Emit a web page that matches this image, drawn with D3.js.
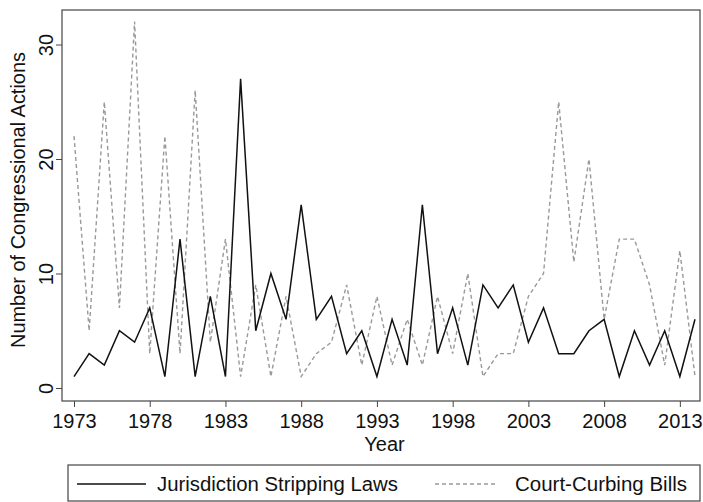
<!DOCTYPE html>
<html>
<head>
<meta charset="utf-8">
<script src="https://cdn.jsdelivr.net/npm/d3@7"></script>
<style>
  body { margin: 0; background: #fff; }
  text { font-family: "Liberation Sans", Arial, sans-serif; fill: #111; }
</style>
</head>
<body>
<div id="container"></div>
<script>
// data
const years = d3.range(1973, 2015);
const stripping = [1, 3, 2, 5, 4, 7, 1, 13, 1, 8, 1, 27, 5, 10, 6, 16, 6, 8, 3, 5, 1, 6, 2, 16, 3, 7, 2, 9, 7, 9, 4, 7, 3, 3, 5, 6, 1, 5, 2, 5, 1, 6];
const curbing = [22, 5, 25, 7, 32, 3, 22, 3, 26, 4, 13, 1, 9, 1, 8, 1, 3, 4, 9, 2, 8, 2, 6, 2, 8, 3, 10, 1, 3, 3, 8, 10, 25, 11, 20, 6, 13, 13, 9, 2, 12, 1];
const xTicks = [1973, 1978, 1983, 1988, 1993, 1998, 2003, 2008, 2013];
const yTicks = [0, 10, 20, 30];
const seriesNames = ["Jurisdiction Stripping Laws", "Court-Curbing Bills"];

const w = 703; // canvas width
const h = 502; // canvas height
const frame = {left: 62, right: 700, top: 10, bottom: 401};
const fs = 20; // font size

const svg = d3.select("#container").append("svg").attr("width", w).attr("height", h);

const xScale = d3.scaleLinear().domain([1973, 2014]).range([74, 695]);
const yScale = d3.scaleLinear().domain([0, 10]).range([388, 273.5]);

// frame
svg.append("rect").attr("x", frame.left).attr("y", frame.top).attr("width", frame.right - frame.left).attr("height", frame.bottom - frame.top).attr("fill", "none").attr("stroke", "#444").attr("stroke-width", 1.2);

// axes
const xAxis = d3.axisBottom(xScale).tickValues(xTicks).tickFormat(d3.format("d")).tickSize(6).tickSizeOuter(0);
const gx = svg.append("g").attr("transform", `translate(0, ${frame.bottom})`).call(xAxis);
gx.select(".domain").remove();
gx.selectAll("line").attr("stroke", "#444");
gx.selectAll("text").attr("font-size", fs).attr("y", 27).attr("dy", null).attr("font-family", "Liberation Sans, Arial, sans-serif").attr("fill", "#111");

const yAxis = d3.axisLeft(yScale).tickValues(yTicks).tickSize(6).tickSizeOuter(0);
const gy = svg.append("g").attr("transform", `translate(${frame.left}, 0)`).call(yAxis);
gy.select(".domain").remove();
gy.selectAll("line").attr("stroke", "#444");
gy.selectAll("text").attr("font-size", fs).attr("font-family", "Liberation Sans, Arial, sans-serif").attr("fill", "#111")
  .attr("x", null).attr("dy", null).attr("text-anchor", "middle")
  .attr("transform", "translate(-9, 0) rotate(-90)");

// axis titles
svg.append("text").attr("x", xScale(1993.5)).attr("y", 451).attr("text-anchor", "middle").attr("font-size", fs).text("Year");
svg.append("text").attr("transform", `translate(25, 200) rotate(-90)`).attr("text-anchor", "middle").attr("font-size", fs)
  .attr("textLength", 296).attr("lengthAdjust", "spacingAndGlyphs").text("Number of Congressional Actions");

// lines
const line = (vals) => d3.line().x((d, i) => xScale(years[i])).y(d => yScale(d))(vals);
svg.append("path").attr("d", line(curbing)).attr("fill", "none").attr("stroke", "#999").attr("stroke-width", 1.4).attr("stroke-dasharray", "4,3");
svg.append("path").attr("d", line(stripping)).attr("fill", "none").attr("stroke", "#111").attr("stroke-width", 1.5);

// legend
const lg = svg.append("g");
lg.append("rect").attr("x", 68).attr("y", 465).attr("width", 632).attr("height", 36).attr("fill", "#fff").attr("stroke", "#444").attr("stroke-width", 1.2);
lg.append("line").attr("x1", 77).attr("x2", 146).attr("y1", 484).attr("y2", 484).attr("stroke", "#111").attr("stroke-width", 1.5);
lg.append("text").attr("x", 157).attr("y", 491).attr("font-size", fs).attr("textLength", 241).attr("lengthAdjust", "spacingAndGlyphs").text(seriesNames[0]);
lg.append("line").attr("x1", 435).attr("x2", 498).attr("y1", 484).attr("y2", 484).attr("stroke", "#999").attr("stroke-width", 1.4).attr("stroke-dasharray", "4,3");
lg.append("text").attr("x", 515).attr("y", 491).attr("font-size", fs).attr("textLength", 172).attr("lengthAdjust", "spacingAndGlyphs").text(seriesNames[1]);
</script>
</body>
</html>
